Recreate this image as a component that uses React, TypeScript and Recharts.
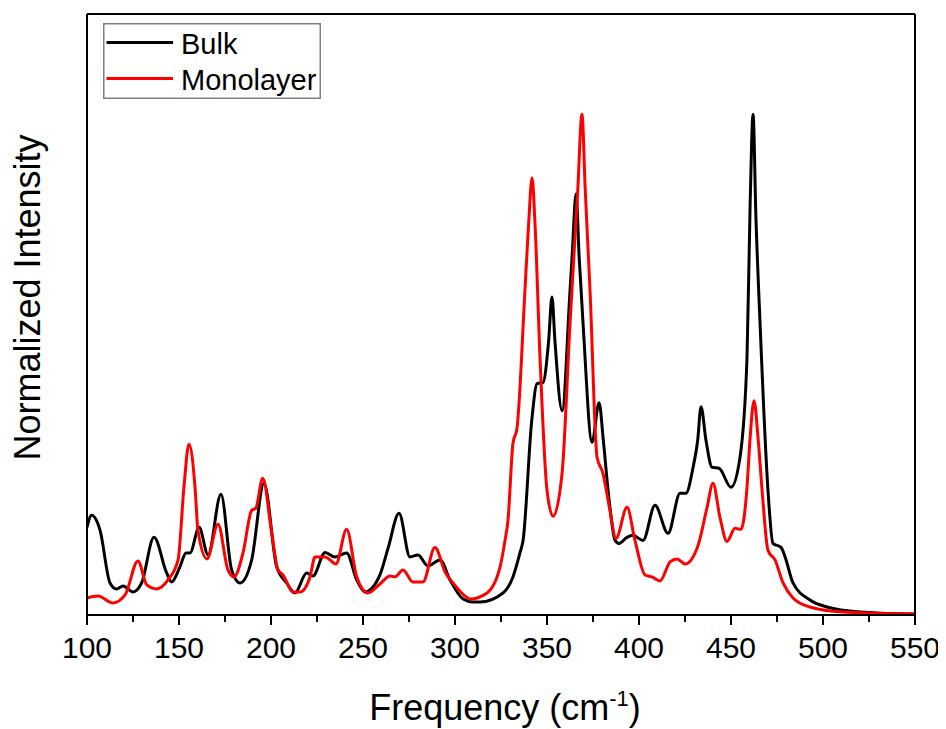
import React from 'react';
import { LineChart, Line, XAxis, YAxis, Legend } from 'recharts';

const bulkFreq = [100, 102.5, 107.1, 112.5, 116.1, 119.6, 125.0, 129.7, 136.4, 143.3, 146.0, 150.5, 153.8, 156.0, 160.9, 165.8, 172.8, 178.6, 183.2, 189.5, 196.2, 203.1, 208.5, 213.0, 219.4, 222.8, 229.4, 234.8, 241.1, 246.6, 251.1, 259.2, 263.6, 269.6, 275.5, 279.9, 285.3, 291.9, 297.3, 304.4, 309.8, 313.6, 326.1, 331.5, 335.3, 337.0, 341.7, 344.6, 347.8, 350.9, 352.7, 354.3, 358.2, 362.5, 363.6, 365.8, 367.5, 369.6, 374.5, 378.3, 380.6, 383.2, 387.0, 389.1, 393.5, 396.7, 402.2, 408.7, 415.8, 422.3, 425.5, 429.4, 431.9, 433.7, 436.4, 439.7, 443.5, 450.0, 454.9, 458.7, 460.4, 462.0, 463.5, 465.8, 470.1, 472.8, 477.2, 479.4, 483.7, 492.9, 502.2, 520.1, 548.9, 550];
const bulkIntensity = [0.175, 0.199, 0.169, 0.064, 0.052, 0.058, 0.046, 0.064, 0.155, 0.084, 0.066, 0.096, 0.124, 0.124, 0.175, 0.12, 0.241, 0.09, 0.064, 0.11, 0.263, 0.096, 0.064, 0.044, 0.084, 0.078, 0.125, 0.116, 0.124, 0.07, 0.046, 0.08, 0.133, 0.203, 0.116, 0.12, 0.098, 0.11, 0.07, 0.032, 0.026, 0.026, 0.044, 0.076, 0.124, 0.149, 0.388, 0.462, 0.464, 0.548, 0.635, 0.548, 0.408, 0.647, 0.713, 0.841, 0.713, 0.582, 0.345, 0.424, 0.349, 0.249, 0.149, 0.143, 0.155, 0.159, 0.149, 0.219, 0.163, 0.243, 0.243, 0.295, 0.349, 0.416, 0.349, 0.295, 0.293, 0.255, 0.315, 0.514, 0.82, 1.0, 0.8, 0.582, 0.249, 0.143, 0.135, 0.116, 0.064, 0.03, 0.016, 0.006, 0.002, 0.002];

const monoFreq = [100, 106.0, 114.1, 120.7, 127.7, 132.5, 137.9, 144.0, 149.5, 152.7, 155.4, 158.7, 160.3, 165.2, 171.2, 176.6, 179.9, 184.8, 189.5, 191.7, 195.5, 200.4, 203.8, 206.5, 212.0, 215.8, 221.2, 223.9, 229.4, 235.3, 241.1, 246.6, 252.7, 259.2, 264.7, 267.4, 271.7, 277.2, 282.6, 289.1, 294.6, 298.9, 305.4, 308.2, 317.4, 324.5, 327.2, 328.8, 331.5, 333.7, 338.0, 340.0, 341.9, 343.5, 346.2, 350.0, 353.3, 358.2, 362.5, 366.7, 369.0, 370.8, 373.4, 377.2, 380.4, 384.2, 387.5, 393.5, 397.8, 403.3, 407.1, 411.4, 416.9, 420.7, 425.0, 432.1, 437.0, 440.2, 444.0, 447.8, 452.2, 455.4, 458.7, 460.3, 462.5, 464.8, 466.9, 470.1, 473.9, 478.3, 483.7, 492.9, 510.9, 548.9, 550];
const monoIntensity = [0.034, 0.038, 0.024, 0.04, 0.108, 0.06, 0.052, 0.07, 0.11, 0.256, 0.341, 0.256, 0.169, 0.112, 0.181, 0.09, 0.076, 0.124, 0.209, 0.213, 0.273, 0.163, 0.09, 0.08, 0.046, 0.046, 0.076, 0.116, 0.116, 0.102, 0.171, 0.076, 0.044, 0.062, 0.078, 0.076, 0.09, 0.066, 0.066, 0.135, 0.086, 0.064, 0.038, 0.032, 0.044, 0.096, 0.149, 0.189, 0.343, 0.373, 0.647, 0.78, 0.873, 0.78, 0.514, 0.249, 0.197, 0.283, 0.582, 0.847, 1.0, 0.847, 0.647, 0.315, 0.283, 0.209, 0.153, 0.215, 0.149, 0.08, 0.076, 0.068, 0.106, 0.112, 0.102, 0.139, 0.215, 0.263, 0.195, 0.147, 0.173, 0.171, 0.255, 0.349, 0.428, 0.349, 0.249, 0.129, 0.11, 0.064, 0.034, 0.016, 0.006, 0.002, 0.002];

const xTicks = [100, 125, 150, 175, 200, 225, 250, 275, 300, 325, 350, 375, 400, 425, 450, 475, 500, 525, 550];
const majorStep = 50;
const seriesNames = ['Bulk', 'Monolayer'];
const seriesColors = ['#000000', '#ff0000'];

const bulkData = bulkFreq.map((f, i) => ({ f, v: bulkIntensity[i] }));
const monoData = monoFreq.map((f, i) => ({ f, v: monoIntensity[i] }));

const FONT = "'Liberation Sans', Arial, Helvetica, sans-serif";

const FreqTick = (props: any) => {
  const { x, y, payload } = props;
  const val = payload.value;
  const major = val % majorStep === 0;
  return (
    <g>
      <line x1={x} x2={x} y1={y} y2={y + (major ? 10 : 7)} stroke="#000" strokeWidth={2} />
      {major && (
        <text x={x} y={y + 43} textAnchor="middle" fontSize={30} fontFamily={FONT} fill="#000">
          {val}
        </text>
      )}
    </g>
  );
};

const XTitle = (props: any) => {
  const vb = props.viewBox || { x: 79, y: 607, width: 828 };
  const cx = vb.x + vb.width / 2 + 4;
  return (
    <text x={cx} y={vb.y + 105} textAnchor="middle" fontSize={36} fontFamily={FONT} fill="#000">
      Frequency (cm
      <tspan fontSize={22} dy={-14}>-1</tspan>
      <tspan dy={14}>)</tspan>
    </text>
  );
};

const YTitle = (props: any) => {
  const vb = props.viewBox || { x: 78, y: 6, width: 1, height: 601 };
  const tx = vb.x + (vb.width || 0) - 47;
  const ty = vb.y + vb.height / 2 - 17;
  return (
    <text x={tx} y={ty} transform={`rotate(-90, ${tx}, ${ty})`} textAnchor="middle" fontSize={36} fontFamily={FONT} fill="#000">
      Normalized Intensity
    </text>
  );
};

const LegendBox = (props: any) => {
  const payload = (props.payload && props.payload.length ? props.payload : seriesNames.map((n, i) => ({ value: n, color: seriesColors[i] })));
  return (
    <svg width={218} height={76} style={{ display: 'block' }}>
      <rect x={0.75} y={0.75} width={216.5} height={74.5} fill="#fff" stroke="#808080" strokeWidth={1.5} />
      {payload.map((p: any, i: number) => (
        <g key={i}>
          <line x1={3.5} x2={70} y1={19.6 + 36 * i} y2={19.6 + 36 * i} stroke={p.color} strokeWidth={3} />
          <text x={78} y={30.5 + 36 * i} fontSize={29} fontFamily={FONT} fill="#000">{p.value}</text>
        </g>
      ))}
    </svg>
  );
};

export default function App() {
  return (
    <LineChart width={938} height={721} margin={{ top: 5, right: 30, bottom: 113, left: 78 }}>
      <XAxis
        xAxisId="b"
        dataKey="f"
        type="number"
        domain={[100, 550]}
        ticks={xTicks}
        interval={0}
        allowDataOverflow
        height={1}
        tickSize={0}
        tickMargin={0}
        tickLine={false}
        tick={<FreqTick />}
        axisLine={{ stroke: '#000', strokeWidth: 2 }}
        label={(p: any) => <XTitle {...p} />}
      />
      <XAxis
        xAxisId="t"
        orientation="top"
        dataKey="f"
        type="number"
        domain={[100, 550]}
        height={1}
        tick={false}
        tickLine={false}
        axisLine={{ stroke: '#000', strokeWidth: 2 }}
      />
      <YAxis
        yAxisId="l"
        type="number"
        domain={[0, 1.2]}
        width={1}
        tick={false}
        tickLine={false}
        allowDataOverflow
        axisLine={{ stroke: '#000', strokeWidth: 2 }}
        label={(p: any) => <YTitle {...p} />}
      />
      <YAxis
        yAxisId="r"
        orientation="right"
        type="number"
        domain={[0, 1.2]}
        width={1}
        tick={false}
        tickLine={false}
        axisLine={{ stroke: '#000', strokeWidth: 2 }}
      />
      <Legend
        layout="vertical"
        align="center"
        verticalAlign="middle"
        wrapperStyle={{ left: 94.7, top: 14.7, width: 218, height: 76 }}
        content={(p: any) => <LegendBox {...p} />}
      />
      <Line
        data={bulkData}
        xAxisId="b"
        yAxisId="l"
        dataKey="v"
        name={seriesNames[0]}
        type="monotone"
        stroke={seriesColors[0]}
        strokeWidth={3}
        dot={false}
        activeDot={false}
        isAnimationActive={false}
      />
      <Line
        data={monoData}
        xAxisId="b"
        yAxisId="l"
        dataKey="v"
        name={seriesNames[1]}
        type="monotone"
        stroke={seriesColors[1]}
        strokeWidth={3}
        dot={false}
        activeDot={false}
        isAnimationActive={false}
      />
    </LineChart>
  );
}
